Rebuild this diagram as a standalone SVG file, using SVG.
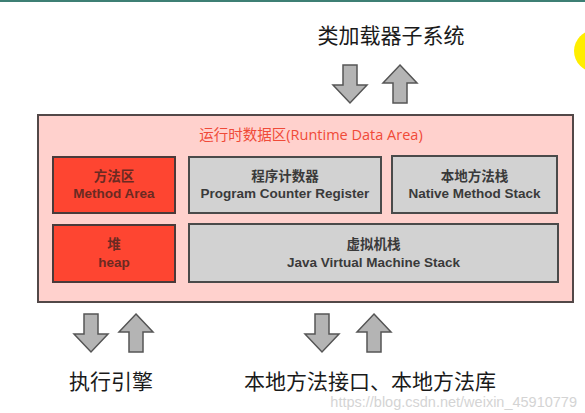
<svg xmlns="http://www.w3.org/2000/svg" xmlns:xlink="http://www.w3.org/1999/xlink" width="585" height="413" viewBox="0 0 585 413">
<style>
.cjk{font-family:"Liberation Sans","Noto Sans CJK SC",sans-serif}
.big{font-size:21px;fill:#1a1a1a}
.title{font-family:"Open Sans","Noto Sans CJK SC",sans-serif;font-size:14.5px;fill:#f04a38}
.lbl{font-family:"Liberation Sans","Noto Sans CJK SC",sans-serif;font-size:13.5px;font-weight:bold;fill:#3a3a3a;text-anchor:middle}
.lblr{fill:#6a2a22}
.red{fill:#fe4531;stroke:#4a3a3a;stroke-width:2}
.gray{fill:#d2d2d2;stroke:#4a4a4a;stroke-width:2}
.arr{fill:#b4b4b4;stroke:#555;stroke-width:1.5;stroke-linejoin:miter}
.wm{font-family:"Liberation Sans",sans-serif;font-size:14.5px;fill:#d4d4d4}
</style>
<defs>
<path id="down" d="M-7,0 H7 V20 H17 L0,38 L-17,20 H-7 Z"/>
<path id="up" d="M0,0 L17,18 H7 V38 H-7 V18 H-17 Z"/>
</defs>
<rect x="0" y="0" width="585" height="413" fill="#fff"/>
<rect x="0" y="0" width="585" height="2" fill="#3d7f74"/>
<circle cx="595" cy="51" r="21" fill="#ffee00"/>

<g id="classloader">
<text class="cjk big" x="391" y="43" text-anchor="middle">类加载器子系统</text>
</g>

<g id="runtime-data-area">
<rect x="38" y="115" width="535" height="187" fill="#ffd1cd" stroke="#524848" stroke-width="2"/>
<text class="title" x="311" y="140" text-anchor="middle">运行时数据区(Runtime Data Area)</text>
</g>

<g id="method-area">
<rect class="red" x="53" y="157" width="122" height="56"/>
<text class="lbl lblr" x="114" y="181">方法区</text>
<text class="lbl lblr" x="114" y="198">Method Area</text>
</g>

<g id="pc-register">
<rect class="gray" x="189" y="157" width="192" height="56"/>
<text class="lbl" x="285" y="181">程序计数器</text>
<text class="lbl" x="285" y="198">Program Counter Register</text>
</g>

<g id="native-method-stack">
<rect class="gray" x="392" y="156" width="165" height="57"/>
<text class="lbl" x="474.5" y="181">本地方法栈</text>
<text class="lbl" x="474.5" y="198">Native Method Stack</text>
</g>

<g id="heap">
<rect class="red" x="53" y="225" width="122" height="57"/>
<text class="lbl lblr" x="114" y="249">堆</text>
<text class="lbl lblr" x="114" y="267">heap</text>
</g>

<g id="jvm-stack">
<rect class="gray" x="189" y="224" width="369" height="58"/>
<text class="lbl" x="373.5" y="249">虚拟机栈</text>
<text class="lbl" x="373.5" y="267">Java Virtual Machine Stack</text>
</g>

<g id="execution-engine">
<text class="cjk big" x="111" y="389" text-anchor="middle">执行引擎</text>
</g>

<g id="native-interface">
<text class="cjk big" x="370" y="389" text-anchor="middle">本地方法接口、本地方法库</text>
</g>

<g id="connectors">
<use xlink:href="#down" class="arr" x="350" y="65"/>
<use xlink:href="#up" class="arr" x="400" y="65"/>
<use xlink:href="#down" class="arr" x="91" y="314"/>
<use xlink:href="#up" class="arr" x="136" y="314"/>
<use xlink:href="#down" class="arr" x="322" y="314"/>
<use xlink:href="#up" class="arr" x="374" y="314"/>
</g>

<text class="wm" x="577" y="407" text-anchor="end">https://blog.csdn.net/weixin_45910779</text>
</svg>
